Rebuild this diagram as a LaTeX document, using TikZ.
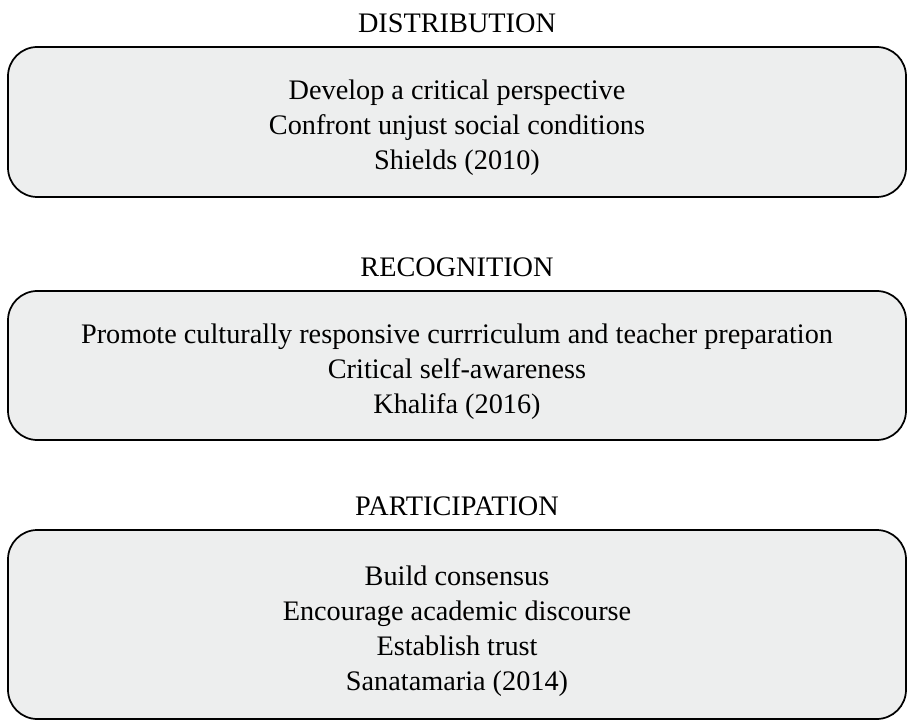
\documentclass[tikz,border=0pt]{standalone}
\usepackage{fontspec}
\setmainfont{Liberation Serif}
\usetikzlibrary{positioning}
\definecolor{panelgray}{RGB}{237,238,238}

\begin{document}
\begin{tikzpicture}[x=0.75pt, y=-0.75pt, font=\fontsize{21.2}{26.25}\selectfont]
	\tikzstyle{panel}=[draw=black, line width=1.3pt, fill=panelgray, rounded corners=22pt, minimum width=673.5pt]
	\tikzstyle{lines}=[align=center, inner sep=0pt]
	\tikzstyle{heading}=[inner sep=0pt, text=black]
	\useasboundingbox (0,0) rectangle (907,720);
	% the three panels
	\node[panel, minimum height=112.5pt]  (dist)  at (457,122)   {};
	\node[panel, minimum height=111.75pt] (recog) at (457,365.5) {};
	\node[panel, minimum height=141.75pt] (part)  at (457,624.5) {};
	% text inside the panels
	\node[lines] (distL)  at ([yshift=-4.6pt]dist.center)  {Develop a critical perspective\\Confront unjust social conditions\\Shields (2010)};
	\node[lines] (recogL) at ([yshift=-4.6pt]recog.center) {Promote culturally responsive currriculum and teacher preparation\\Critical self-awareness\\Khalifa (2016)};
	\node[lines] (partL)  at ([yshift=-5pt]part.center)    {Build consensus\\Encourage academic discourse\\Establish trust\\Sanatamaria (2014)};
	% headings
	\node[heading, above=9.5pt of dist]  (distT)  {DISTRIBUTION};
	\node[heading, above=9.5pt of recog] (recogT) {RECOGNITION};
	\node[heading, above=9.5pt of part]  (partT)  {PARTICIPATION};
\end{tikzpicture}
\end{document}
